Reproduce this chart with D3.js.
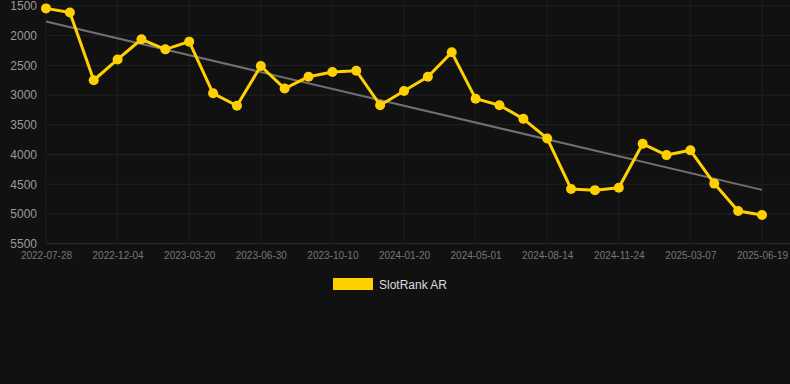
<!DOCTYPE html>
<html>
<head>
<meta charset="utf-8">
<script src="https://cdn.jsdelivr.net/npm/d3@7"></script>
<style>
  html, body { margin: 0; padding: 0; background: #111111; }
  svg { display: block; }
</style>
</head>
<body>
<div id="chart"></div>
<script>
// ---- data ----
const seriesName = "SlotRank AR";
const values = [1540, 1610, 2750, 2400, 2060, 2230, 2100, 2970, 3180, 2510,
                2890, 2690, 2610, 2590, 3170, 2930, 2690, 2280, 3060, 3170,
                3400, 3730, 4580, 4600, 4560, 3820, 4010, 3930, 4490, 4950, 5020];
const tickIndices = [0, 3, 6, 9, 12, 15, 18, 21, 24, 27, 30];
const tickLabels = ["2022-07-28", "2022-12-04", "2023-03-20", "2023-06-30", "2023-10-10",
                    "2024-01-20", "2024-05-01", "2024-08-14", "2024-11-24", "2025-03-07", "2025-06-19"];
const yTicks = [1500, 2000, 2500, 3000, 3500, 4000, 4500, 5000, 5500];

// ---- layout ----
const W = 790, H = 384;
const svg = d3.select("#chart").append("svg").attr("width", W).attr("height", H);
svg.append("rect").attr("width", W).attr("height", H).attr("fill", "#111111");

const idx = values.map((_, i) => i);
const x = d3.scalePoint().domain(idx).range([46, 762]);
const y = d3.scaleLinear().domain([1500, 5500]).range([6, 243.6]);
const gridRight = 790;

// grid
const grid = svg.append("g");
grid.selectAll("line.h").data(yTicks).join("line")
  .attr("x1", 46).attr("x2", gridRight)
  .attr("y1", d => y(d)).attr("y2", d => y(d))
  .attr("stroke", d => d === 5500 ? "#2e2e2e" : "#222222").attr("stroke-width", 1);
grid.selectAll("line.v").data(tickIndices).join("line")
  .attr("x1", d => x(d)).attr("x2", d => x(d))
  .attr("y1", 0).attr("y2", y(5500))
  .attr("stroke", "#1e1e1e").attr("stroke-width", 1);

// y axis labels
const yAxis = d3.axisLeft(y).tickValues(yTicks).tickSize(0).tickPadding(0).tickFormat(d3.format("d"));
const gy = svg.append("g").attr("transform", "translate(37,0)").call(yAxis);
gy.select(".domain").remove();
gy.selectAll("text").attr("fill", "#999999").attr("font-size", "12px")
  .attr("font-family", "Liberation Sans, Arial, sans-serif");

// x axis labels
const xAxis = d3.axisBottom(x).tickValues(tickIndices).tickSize(0).tickPadding(0)
  .tickFormat(d => tickLabels[tickIndices.indexOf(d)]);
const gx = svg.append("g").attr("transform", "translate(0,252)").call(xAxis);
gx.select(".domain").remove();
gx.selectAll("text").attr("fill", "#777777").attr("font-size", "10px")
  .attr("font-family", "Liberation Sans, Arial, sans-serif");

// trend line (least squares)
const n = values.length;
const mx = d3.mean(idx), my = d3.mean(values);
const slope = d3.sum(idx, i => (i - mx) * (values[i] - my)) / d3.sum(idx, i => (i - mx) ** 2);
const icpt = my - slope * mx;
svg.append("line")
  .attr("x1", x(0)).attr("y1", y(icpt))
  .attr("x2", x(n - 1)).attr("y2", y(icpt + slope * (n - 1)))
  .attr("stroke", "#707070").attr("stroke-width", 2);

// series line
const line = d3.line().x(i => x(i)).y(i => y(values[i]));
svg.append("path").datum(idx).attr("d", line)
  .attr("fill", "none").attr("stroke", "#FFD000").attr("stroke-width", 3)
  .attr("stroke-linejoin", "round");
svg.append("g").selectAll("circle").data(idx).join("circle")
  .attr("cx", i => x(i)).attr("cy", i => y(values[i])).attr("r", 5)
  .attr("fill", "#FFD000");

// legend
const lg = svg.append("g");
lg.append("rect").attr("x", 333).attr("y", 278).attr("width", 40).attr("height", 12).attr("fill", "#FFD000");
lg.append("text").attr("x", 379).attr("y", 288.5).text(seriesName)
  .attr("fill", "#dddddd").attr("font-size", "12px")
  .attr("font-family", "Liberation Sans, Arial, sans-serif");
</script>
</body>
</html>
